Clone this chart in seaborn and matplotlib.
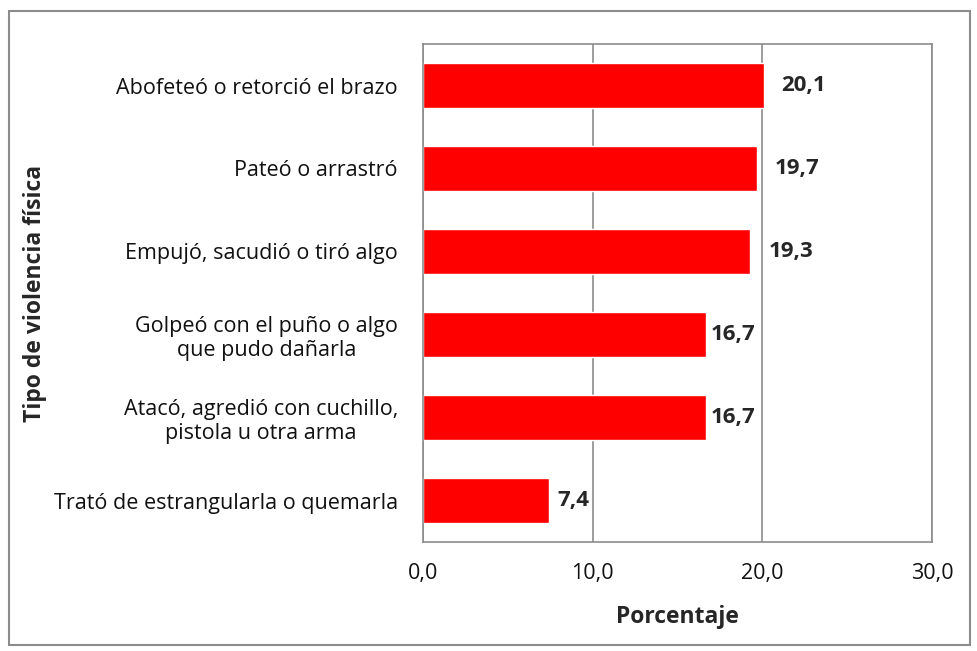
import matplotlib
matplotlib.use("Agg")
import matplotlib.pyplot as plt
import seaborn as sns
import pandas as pd
from matplotlib.patches import Rectangle
from matplotlib.ticker import FuncFormatter

categorias = [
    "Abofeteó o retorció el brazo",
    "Pateó o arrastró",
    "Empujó, sacudió o tiró algo",
    "Golpeó con el puño o algo\nque pudo dañarla",
    "Atacó, agredió con cuchillo,\npistola u otra arma",
    "Trató de estrangularla o quemarla",
]
porcentajes = [20.1, 19.7, 19.3, 16.7, 16.7, 7.4]
x_ticks = [0, 10, 20, 30]

df = pd.DataFrame({"tipo": categorias, "pct": porcentajes})

sns.set_style("white")
plt.rcParams["font.family"] = ["Open Sans", "DejaVu Sans"]

fig = plt.figure(figsize=(9.77, 6.51), dpi=100)
ax = fig.add_axes([423 / 977, 1 - 542 / 651, (932 - 423) / 977, (542 - 44) / 651])

sns.barplot(data=df, x="pct", y="tipo", color="#FF0000", width=0.55,
            saturation=1, ax=ax, orient="h")

ax.set_xlim(0, 30)
ax.set_xticks(x_ticks)
ax.xaxis.set_major_formatter(FuncFormatter(lambda v, _: f"{v:.1f}".replace(".", ",")))
ax.grid(axis="x", color="#8c8c8c", linewidth=1.2)
ax.set_axisbelow(True)
for s in ax.spines.values():
    s.set_color("#8c8c8c")
    s.set_linewidth(1.2)
ax.tick_params(axis="both", length=0, labelsize=15.5, colors="#111111")
ax.tick_params(axis="x", pad=15)
ax.tick_params(axis="y", pad=18)
for lbl in ax.get_yticklabels():
    lbl.set_horizontalalignment("right")
    lbl.set_multialignment("center")
    lbl.set_linespacing(1.2)

ax.set_xlabel("Porcentaje", fontsize=16.5, fontweight="bold")
ax.set_ylabel("Tipo de violencia física", fontsize=16.5, fontweight="bold")
ax.yaxis.set_label_coords(-(423 - 35) / (932 - 423), 0.5)
ax.xaxis.set_label_coords(0.5, -(617 - 542) / (542 - 44))
ax.xaxis.label.set_verticalalignment("center")
ax.yaxis.label.set_verticalalignment("center")

# etiquetas de valor (Excel las coloca con separación irregular)
pads = [17, 17, 18, 4, 4, 9]
for bar, v, p in zip(ax.patches, porcentajes, pads):
    ax.annotate(f"{v:.1f}".replace(".", ","),
                (bar.get_width(), bar.get_y() + bar.get_height() / 2),
                xytext=(p, 0), textcoords="offset pixels",
                va="center", ha="left", fontsize=16, fontweight="bold")

fig.patches.append(Rectangle((9 / 977, 6 / 651), (970 - 9) / 977, (640 - 6) / 651,
                             transform=fig.transFigure, fill=False,
                             edgecolor="#8c8c8c", linewidth=1.5))

fig.savefig("out.png", dpi=100)
